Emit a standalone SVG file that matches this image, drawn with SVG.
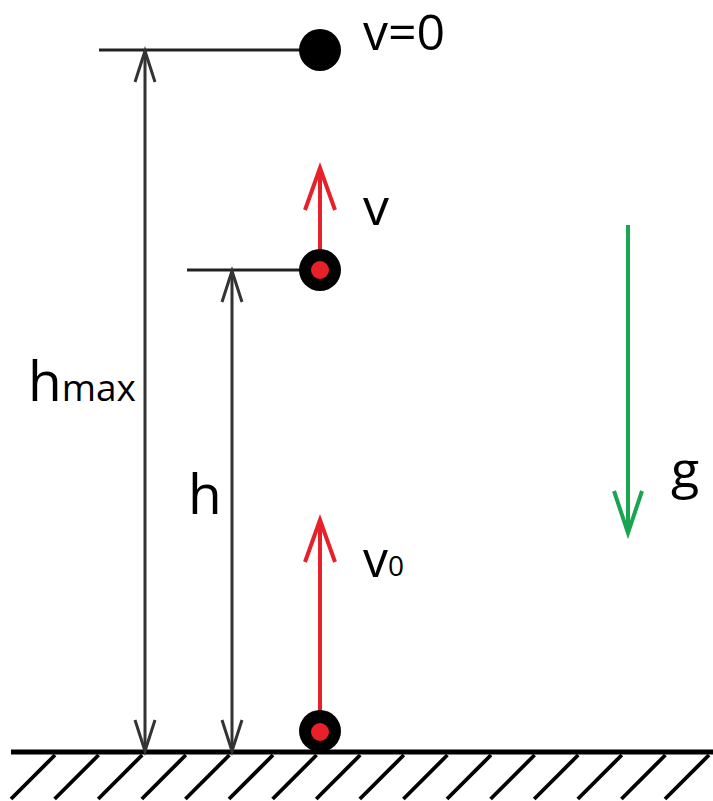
<svg xmlns="http://www.w3.org/2000/svg" width="713" height="801" viewBox="0 0 713 801">
  <style>
    .lbl { font-family: "Open Sans", "Noto Sans", "DejaVu Sans", sans-serif; fill: #000; }
    .dim { stroke: #333; stroke-width: 3; fill: none; }
    .ref { stroke: #222; stroke-width: 3; fill: none; }
    .vel { stroke: #e8202a; stroke-width: 4; fill: none; }
    .grav { stroke: #1aa650; stroke-width: 4; fill: none; }
    .hatch { stroke: #000; stroke-width: 3.8; }
    .ball { fill: #000; }
    .dot { fill: #e8202a; }
  </style>
  <defs>
    <marker id="mDim" markerUnits="userSpaceOnUse" viewBox="-34 -13 36 26" refX="0" refY="0" markerWidth="36" markerHeight="26" orient="auto-start-reverse" overflow="visible">
      <path d="M-31,-10 L0,0 L-31,10" fill="none" stroke="#333" stroke-width="3"/>
    </marker>
    <marker id="mVel" markerUnits="userSpaceOnUse" viewBox="-46 -18 48 36" refX="0" refY="0" markerWidth="48" markerHeight="36" orient="auto" overflow="visible">
      <path d="M-42,-15 L0,0 L-42,15" fill="none" stroke="#e8202a" stroke-width="4"/>
    </marker>
    <marker id="mGrav" markerUnits="userSpaceOnUse" viewBox="-44 -17 46 34" refX="0" refY="0" markerWidth="46" markerHeight="34" orient="auto" overflow="visible">
      <path d="M-42,-14 L0,0 L-42,14" fill="none" stroke="#1aa650" stroke-width="4"/>
    </marker>
  </defs>

  <g id="ground">
    <line x1="11" y1="752" x2="713" y2="752" stroke="#000" stroke-width="5"/>
    <g class="hatch">
      <line x1="55" y1="755" x2="11" y2="799"/>
      <line x1="98.6" y1="755" x2="54.6" y2="799"/>
      <line x1="142.2" y1="755" x2="98.2" y2="799"/>
      <line x1="185.8" y1="755" x2="141.8" y2="799"/>
      <line x1="229.4" y1="755" x2="185.4" y2="799"/>
      <line x1="273" y1="755" x2="229" y2="799"/>
      <line x1="316.6" y1="755" x2="272.6" y2="799"/>
      <line x1="360.2" y1="755" x2="316.2" y2="799"/>
      <line x1="403.8" y1="755" x2="359.8" y2="799"/>
      <line x1="447.4" y1="755" x2="403.4" y2="799"/>
      <line x1="491" y1="755" x2="447" y2="799"/>
      <line x1="534.6" y1="755" x2="490.6" y2="799"/>
      <line x1="578.2" y1="755" x2="534.2" y2="799"/>
      <line x1="621.8" y1="755" x2="577.8" y2="799"/>
      <line x1="665.4" y1="755" x2="621.4" y2="799"/>
      <line x1="709" y1="755" x2="665" y2="799"/>
    </g>
  </g>

  <g id="connectors">
    <line class="ref" x1="99" y1="50" x2="305" y2="50"/>
    <line class="ref" x1="187" y1="270" x2="305" y2="270"/>
    <line class="dim" x1="145" y1="51" x2="145" y2="751" marker-start="url(#mDim)" marker-end="url(#mDim)"/>
    <line class="dim" x1="232" y1="271" x2="232" y2="751" marker-start="url(#mDim)" marker-end="url(#mDim)"/>
    <line class="vel" x1="320" y1="270" x2="320" y2="168" marker-end="url(#mVel)"/>
    <line class="vel" x1="320" y1="731" x2="320" y2="520" marker-end="url(#mVel)"/>
    <line class="grav" x1="628" y1="225" x2="628" y2="533" marker-end="url(#mGrav)"/>
  </g>

  <g id="ball-top">
    <circle class="ball" cx="320" cy="50" r="21"/>
  </g>
  <g id="ball-mid">
    <circle class="ball" cx="320" cy="270" r="21"/>
    <circle class="dot" cx="320" cy="270" r="9"/>
  </g>
  <g id="ball-bottom">
    <circle class="ball" cx="320" cy="731" r="21"/>
    <circle class="dot" cx="320" cy="732" r="9"/>
  </g>

  <g id="labels">
    <text class="lbl" x="363" y="49.5" font-size="50">v=0</text>
    <text class="lbl" x="363" y="225" font-size="52">v</text>
    <text class="lbl" x="28" y="401" font-size="55">h<tspan font-size="37">max</tspan></text>
    <text class="lbl" x="188" y="514" font-size="55">h</text>
    <text class="lbl" x="363" y="577" font-size="50">v<tspan font-size="28" dy="-1">0</tspan></text>
    <text class="lbl" x="671" y="488" font-size="52">g</text>
  </g>
</svg>
